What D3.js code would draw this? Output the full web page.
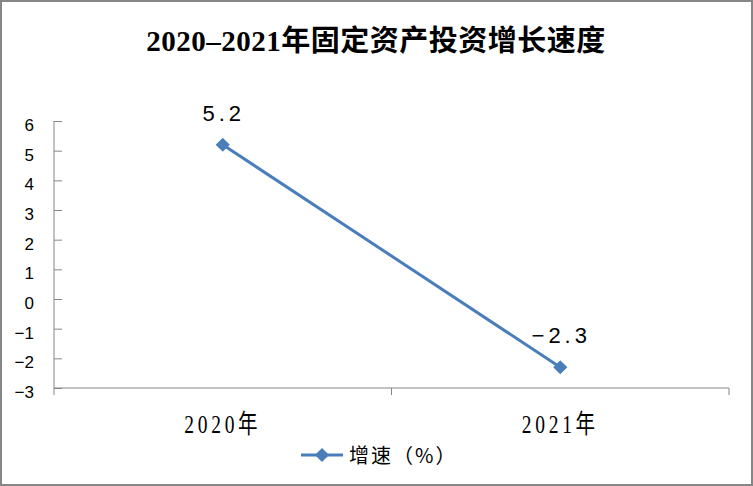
<!DOCTYPE html>
<html>
<head>
<meta charset="utf-8">
<script src="https://cdn.jsdelivr.net/npm/d3@7"></script>
<style>
  html, body { margin: 0; padding: 0; background: #fff; }
</style>
</head>
<body>
<div class="chartContainer"></div>
<script>
const categories = ["2020年", "2021年"];
const growth = [5.2, -2.3];
const growthLabels = ["5.2", "−2.3"];
const yTicks = [-3, -2, -1, 0, 1, 2, 3, 4, 5, 6];
const title = "2020–2021年固定资产投资增长速度";
const seriesName = "增速（%）";

let width = 753;
let height = 486;
let margin = ({top: 121, right: 24, bottom: 98, left: 54});

const blue = "#4A7EBB";
const gray = "#868686";

const svg = d3.select(".chartContainer").append("svg")
    .attr("width", width)
    .attr("height", height)
    .attr("viewBox", [0, 0, width, height]);

// outer frame
svg.append("rect")
    .attr("x", 1).attr("y", 1)
    .attr("width", width - 2).attr("height", height - 2)
    .attr("fill", "#fff")
    .attr("stroke", gray)
    .attr("stroke-width", 2);

let x = d3.scaleBand()
    .domain(categories)
    .range([margin.left, width - margin.right]);

let y = d3.scaleLinear()
    .domain([-3, 6])
    .range([height - margin.bottom, margin.top]);

// y axis: ticks point into the plot
let yAxis = g => g
    .attr("transform", `translate(${margin.left},0)`)
    .call(d3.axisRight(y).tickValues(yTicks).tickSize(8).tickFormat(d3.format("d")))
    .call(g => g.selectAll("line, .domain").attr("stroke", gray))
    .call(g => g.select(".domain").attr("d", `M0,${y(6)}V${y(-3)}`))
    .call(g => g.selectAll("text")
        .attr("x", -20)
        .attr("dy", "0.55em")
        .attr("text-anchor", "end")
        .attr("fill", "#000")
        .style("font-family", "'Liberation Sans', Arial, sans-serif")
        .style("font-size", "17px"));

svg.append("g").call(yAxis);

// x axis with category boundary ticks
const xAxisG = svg.append("g")
    .attr("transform", `translate(0,${y(-3)})`);

xAxisG.append("line")
    .attr("x1", x.range()[0]).attr("x2", x.range()[1])
    .attr("stroke", gray).attr("stroke-width", 1);

const bounds = categories.map(c => x(c)).concat([x.range()[1]]);
xAxisG.selectAll(".bt")
    .data(bounds)
    .join("line")
    .attr("class", "bt")
    .attr("x1", d => d).attr("x2", d => d)
    .attr("y1", 0).attr("y2", 7)
    .attr("stroke", gray);

xAxisG.selectAll(".cl")
    .data(categories)
    .join("text")
    .attr("class", "cl")
    .attr("transform", d => `translate(${x(d) + x.bandwidth() / 2},45) scale(0.75,1)`)
    .attr("text-anchor", "middle")
    .attr("letter-spacing", 5)
    .style("font-family", "'Liberation Serif', 'Noto Sans CJK SC', serif")
    .style("font-size", "26px")
    .text(d => d);

// series
const pts = categories.map((c, i) => ({cat: c, v: growth[i], label: growthLabels[i]}));

let line = d3.line()
    .x(d => x(d.cat) + x.bandwidth() / 2)
    .y(d => y(d.v));

svg.append("path")
    .datum(pts)
    .attr("fill", "none")
    .attr("stroke", blue)
    .attr("stroke-width", 3)
    .attr("stroke-linejoin", "round")
    .attr("d", line);

const diamond = d3.symbol(d3.symbolSquare, 100);

svg.selectAll(".mk")
    .data(pts)
    .join("path")
    .attr("class", "mk")
    .attr("d", diamond)
    .attr("transform", d => `translate(${x(d.cat) + x.bandwidth() / 2},${y(d.v)}) rotate(45)`)
    .attr("fill", blue);

svg.selectAll(".dl")
    .data(pts)
    .join("text")
    .attr("class", "dl")
    .attr("x", d => x(d.cat) + x.bandwidth() / 2 + 1)
    .attr("y", d => y(d.v) - 24)
    .attr("text-anchor", "middle")
    .attr("letter-spacing", 4)
    .style("font-family", "'Liberation Sans', Arial, sans-serif")
    .style("font-size", "22px")
    .text(d => d.label);

// title
svg.append("text")
    .attr("x", 376)
    .attr("y", 51)
    .attr("text-anchor", "middle")
    .attr("letter-spacing", 0.5)
    .style("font-family", "'Liberation Serif', 'Noto Sans CJK SC', serif")
    .style("font-weight", "bold")
    .style("font-size", "29px")
    .text(title);

// legend
const lg = svg.append("g").attr("transform", "translate(301,455)");
lg.append("line")
    .attr("x1", 0).attr("x2", 42)
    .attr("stroke", blue).attr("stroke-width", 3);
lg.append("path")
    .attr("d", diamond)
    .attr("transform", "translate(21,0) rotate(45)")
    .attr("fill", blue);
lg.append("text")
    .attr("x", 48)
    .attr("y", 8)
    .attr("letter-spacing", 2)
    .style("font-family", "'Noto Sans CJK SC', sans-serif")
    .style("font-size", "20px")
    .text(seriesName);
</script>
</body>
</html>
